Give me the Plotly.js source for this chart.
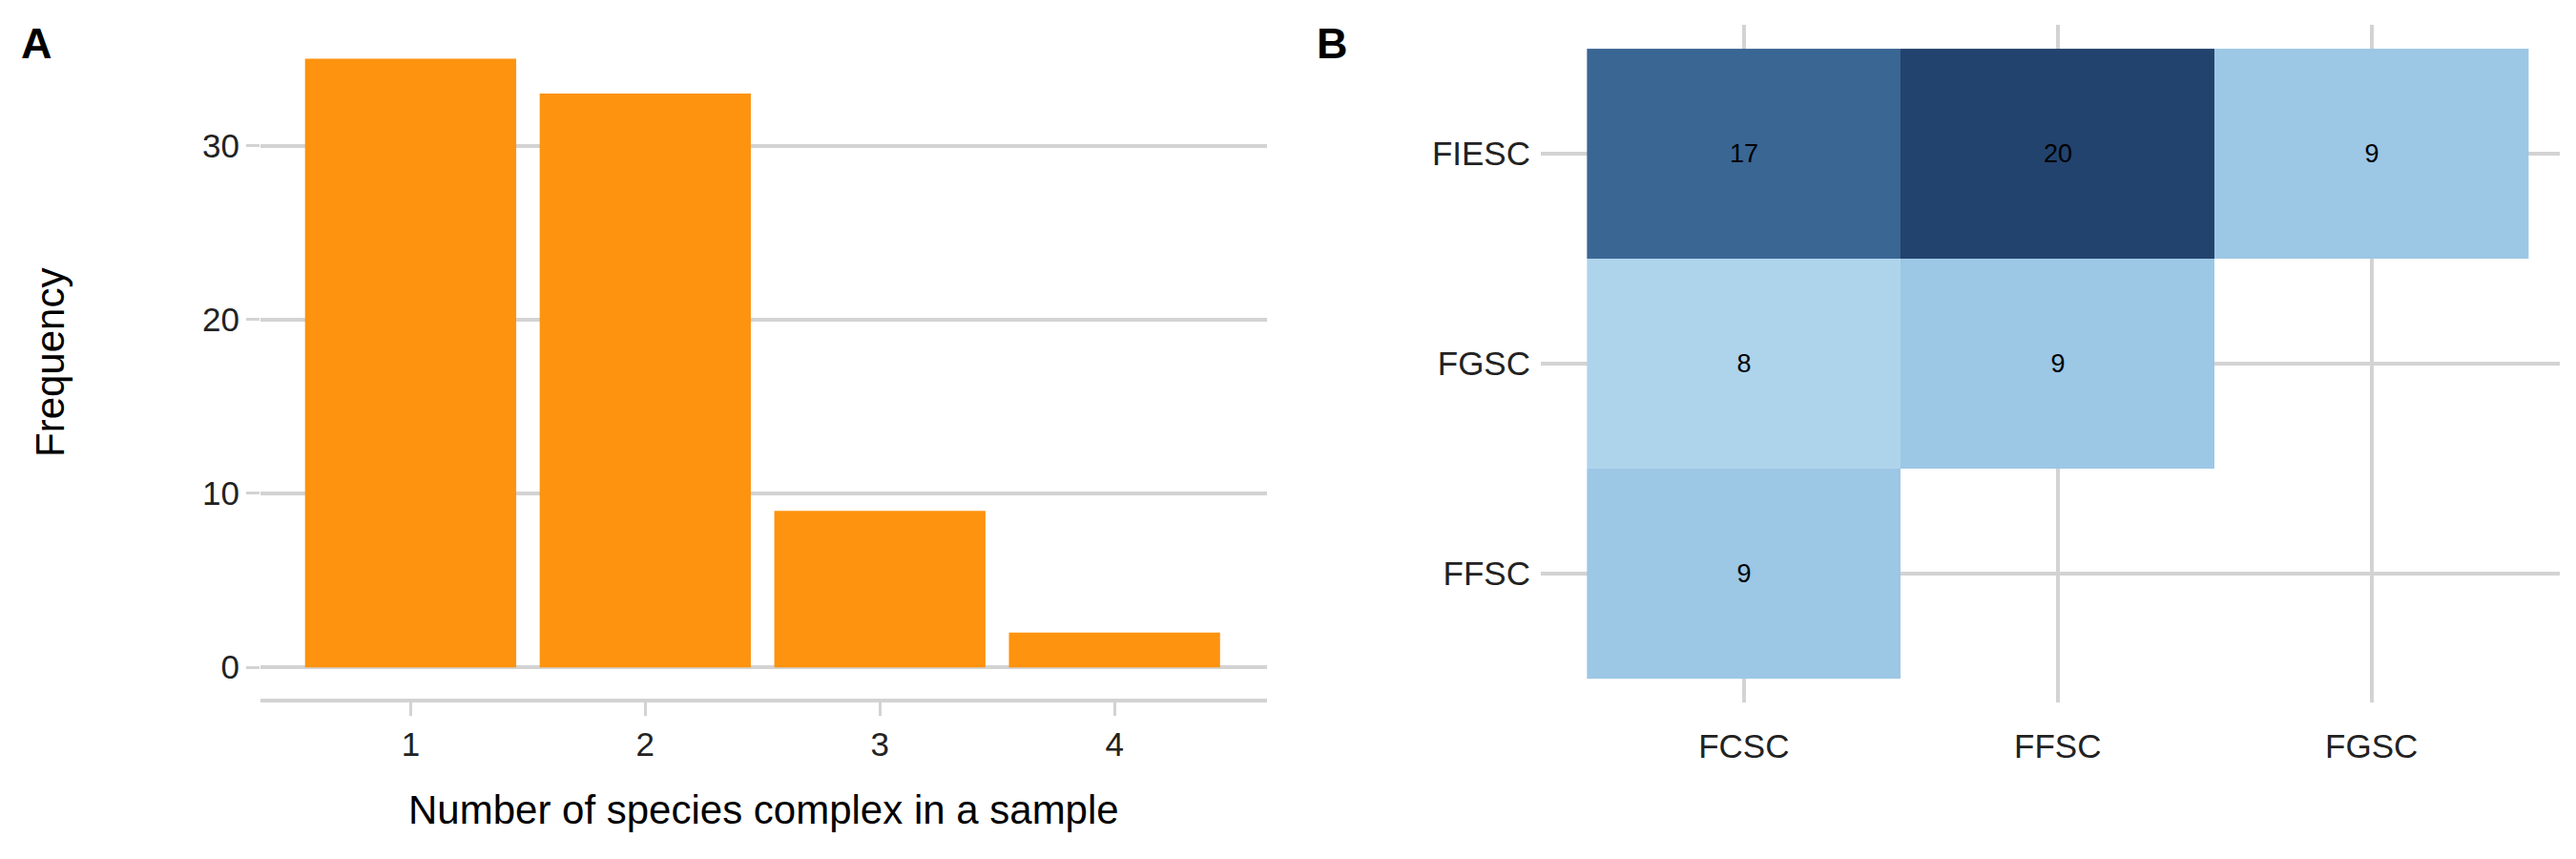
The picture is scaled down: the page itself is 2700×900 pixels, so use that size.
<!DOCTYPE html>
<html>
<head>
<meta charset="utf-8">
<script src="https://cdn.plot.ly/plotly-3.0.1.min.js"></script>
<style>body{margin:0;background:#fff}#chart{width:2700px;height:900px}</style>
</head>
<body>
<div id="chart"></div>
<script>
// ------------------------------------------------------------------------------
// DATA
const n_complex   = [1, 2, 3, 4];
const frequency   = [35, 33, 9, 2];

const heat_x      = ['FCSC', 'FFSC', 'FGSC'];
const heat_y      = ['FFSC', 'FGSC', 'FIESC'];
const heat_z      = [
    [9,  null, null],
    [8,  9,    null],
    [17, 20,   9]
];

const font_family = '"Liberation Sans", Arial, Helvetica, sans-serif';
const grid_col    = '#d3d3d3';

// ------------------------------------------------------------------------------
// TRACES
const bar_trace = {
    type: 'bar',
    x: n_complex,
    y: frequency,
    width: 0.9,
    marker: {color: '#fd930f'},
    hoverinfo: 'none',
    xaxis: 'x',
    yaxis: 'y'
};

const heat_text = heat_z.map(row => row.map(v => v === null ? '' : String(v)));

const heat_trace = {
    type: 'heatmap',
    x: heat_x,
    y: heat_y,
    z: heat_z,
    text: heat_text,
    texttemplate: '%{text}',
    textfont: {family: font_family, size: 27, color: '#000000'},
    zmin: 8,
    zmax: 20,
    colorscale: [
        [0, '#aed4ec'],
        [1 / 12, '#9cc7e5'],
        [9 / 12, '#3a6694'],
        [1, '#22436e']
    ],
    showscale: false,
    hoverinfo: 'none',
    xgap: 0,
    ygap: 0,
    xaxis: 'x2',
    yaxis: 'y2'
};

// ------------------------------------------------------------------------------
// LAYOUT
const layout = {
    width: 2700,
    height: 900,
    paper_bgcolor: '#ffffff',
    plot_bgcolor: 'rgba(0,0,0,0)',
    showlegend: false,
    margin: {l: 0, r: 0, t: 0, b: 0},
    font: {family: font_family, color: '#000000'},
    xaxis: {
        domain: [273 / 2700, 1328 / 2700],
        range: [0.36, 4.65],
        tickvals: n_complex,
        ticks: 'outside',
        ticklen: 14,
        tickwidth: 3,
        tickcolor: grid_col,
        showline: true,
        linecolor: grid_col,
        linewidth: 4,
        showgrid: false,
        zeroline: false,
        tickfont: {size: 35, color: '#222222'},
        anchor: 'y'
    },
    yaxis: {
        domain: [1 - 732 / 900, 1 - 25 / 900],
        range: [-1.8, 37],
        tickvals: [0, 10, 20, 30],
        ticks: 'outside',
        ticklen: 14,
        tickwidth: 3,
        tickcolor: grid_col,
        showgrid: true,
        gridcolor: grid_col,
        gridwidth: 3.5,
        zeroline: false,
        showline: false,
        tickfont: {size: 35, color: '#222222'},
        anchor: 'x'
    },
    xaxis2: {
        domain: [1615 / 2700, 2683 / 2700],
        range: [-0.647, 2.6],
        type: 'category',
        showgrid: true,
        gridcolor: grid_col,
        gridwidth: 3.5,
        zeroline: false,
        ticks: '',
        ticklabelstandoff: 22,
        tickfont: {size: 35, color: '#222222'},
        anchor: 'y2'
    },
    yaxis2: {
        domain: [1 - 736 / 900, 1 - 26 / 900],
        range: [-0.614, 2.614],
        type: 'category',
        showgrid: true,
        gridcolor: grid_col,
        gridwidth: 3.5,
        zeroline: false,
        ticks: '',
        ticklabelstandoff: 10,
        tickfont: {size: 35, color: '#222222'},
        anchor: 'x2'
    },
    annotations: [
        {text: '<b>A</b>', x: 20 / 2700, y: 1 - 45 / 900, xref: 'paper', yref: 'paper',
         xanchor: 'left', yanchor: 'middle', showarrow: false, font: {size: 45}},
        {text: '<b>B</b>', x: 1378 / 2700, y: 1 - 45 / 900, xref: 'paper', yref: 'paper',
         xanchor: 'left', yanchor: 'middle', showarrow: false, font: {size: 45}},
        {text: 'Frequency', x: 52 / 2700, y: 1 - 380 / 900, xref: 'paper', yref: 'paper',
         textangle: -90, xanchor: 'center', yanchor: 'middle', showarrow: false,
         font: {size: 42}},
        {text: 'Number of species complex in a sample', x: 800 / 2700, y: 1 - 848 / 900,
         xref: 'paper', yref: 'paper', xanchor: 'center', yanchor: 'middle',
         showarrow: false, font: {size: 42}}
    ]
};

Plotly.newPlot('chart', [bar_trace, heat_trace], layout, {displayModeBar: false});
</script>
</body>
</html>
